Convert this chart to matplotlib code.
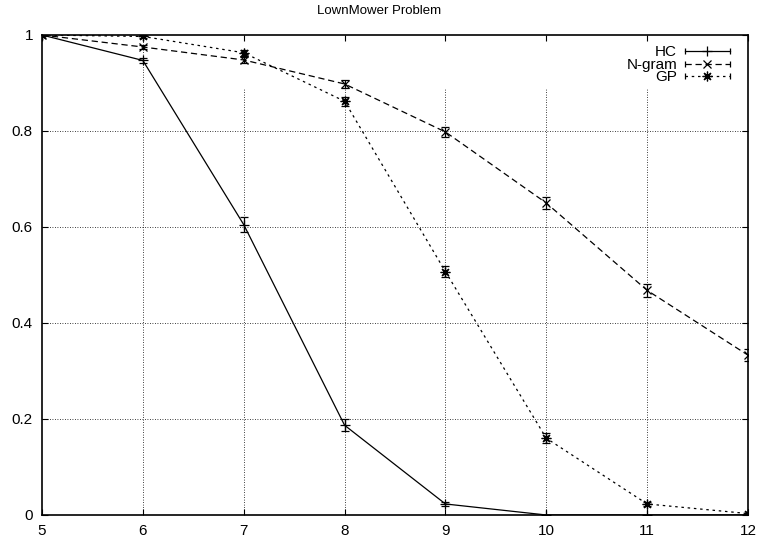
import matplotlib
matplotlib.use("Agg")
import matplotlib.pyplot as plt
from matplotlib.lines import Line2D
from matplotlib.legend_handler import HandlerLine2D, HandlerTuple

plt.rcParams['font.family'] = ['Liberation Sans', 'DejaVu Sans']

# data
x = [5, 6, 7, 8, 9, 10, 11, 12]
hc = [1.0, 0.947, 0.605, 0.187, 0.023, 0.0, 0.0, 0.0]
hc_err = [0.002, 0.006, 0.015, 0.012, 0.005, 0.001, 0.0, 0.0]
ngram = [1.0, 0.975, 0.948, 0.898, 0.798, 0.650, 0.468, 0.333]
ngram_err = [0.002, 0.005, 0.006, 0.008, 0.010, 0.012, 0.013, 0.012]
gp = [1.0, 0.997, 0.963, 0.862, 0.507, 0.160, 0.023, 0.003]
gp_err = [0.002, 0.003, 0.006, 0.009, 0.012, 0.010, 0.005, 0.002]

labels = ['HC', 'N-gram', 'GP']
xticks = [5, 6, 7, 8, 9, 10, 11, 12]
yticks = [0, 0.2, 0.4, 0.6, 0.8, 1]
yticklabels = ['0', '0.2', '0.4', '0.6', '0.8', '1']

fig = plt.figure(figsize=(7.59, 5.38), dpi=100)
ax = fig.add_axes([42/759, 23/538, 706/759, 480/538])

# grid, gnuplot style: vertical lines beyond x=6 stop below the key
for gx in xticks[1:-1]:
    top = 1.0 if gx == 6 else 0.89
    ax.plot([gx, gx], [0, top], color='k', lw=0.6, ls=(0, (1, 2)), zorder=1)
for gy in yticks[1:-1]:
    ax.axhline(gy, color='k', lw=0.6, ls=(0, (1, 2)), zorder=1)

star = (8, 2, 0)
styles = [('-', '+', 7), ((0, (5, 3)), 'x', 6), ((0, (2, 3)), star, 7)]
series = [(hc, hc_err), (ngram, ngram_err), (gp, gp_err)]

handles = []
hmap = {}
for (ys, es), (ls, mk, ms), lab in zip(series, styles, labels):
    ax.errorbar(x, ys, yerr=es, color='k', lw=0.9, ls=ls, marker=mk, ms=ms,
                mew=0.9, capsize=3, elinewidth=0.9)
    main = Line2D([], [], color='k', lw=0.9, ls=ls, marker=mk, ms=ms, mew=0.9)
    caps = Line2D([], [], color='k', ls='none', marker='|', ms=5, mew=0.9)
    hmap[main] = HandlerLine2D(numpoints=1)
    hmap[caps] = HandlerLine2D(numpoints=2, marker_pad=0)
    handles.append((main, caps))
hmap[tuple] = HandlerTuple(ndivide=1)

ax.set_xlim(5, 12)
ax.set_ylim(0, 1)
ax.set_xticks(xticks)
ax.set_yticks(yticks)
ax.set_yticklabels(yticklabels)
ax.tick_params(direction='in', length=4, width=0.8, top=True, right=True,
               labelsize=11, pad=6.5)
for s in ax.spines.values():
    s.set_linewidth(1.2)

fig.suptitle('LownMower Problem', fontsize=9.5, y=1 - 11/538, va='center')

leg = ax.legend(handles, labels, handler_map=hmap, loc='upper right',
                bbox_to_anchor=(0.983, 0.991), frameon=False,
                markerfirst=False, handlelength=2.95, fontsize=11,
                borderaxespad=0, labelspacing=-0.1, handletextpad=0.5,
                borderpad=0.4)
for t in leg.get_texts():
    t.set_ha('right')

fig.savefig('out.png', dpi=100)
